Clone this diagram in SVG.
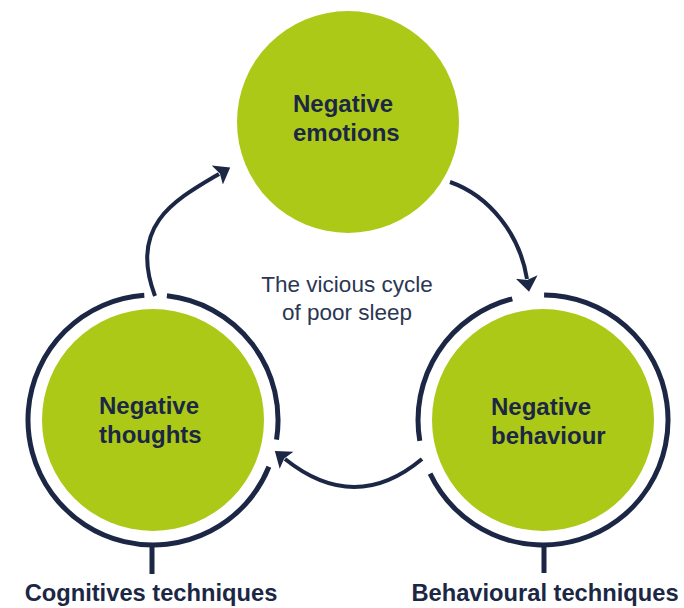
<svg xmlns="http://www.w3.org/2000/svg" width="684" height="608" viewBox="0 0 684 608">
  <style>
    .node { fill: #adc918; }
    .ring { fill: none; stroke: #1b2744; stroke-width: 5; }
    .stem { stroke: #1b2744; stroke-width: 5; }
    .conn { fill: none; stroke: #1b2744; stroke-width: 4; }
    .lbl { font-family: "Liberation Sans", Arial, sans-serif; font-weight: bold; font-size: 24px; fill: #1b2744; }
    .cap { font-family: "Liberation Sans", Arial, sans-serif; font-weight: bold; font-size: 23.7px; fill: #1b2744; text-anchor: middle; }
    .center { font-family: "Liberation Sans", Arial, sans-serif; font-size: 22.5px; fill: #2b3753; text-anchor: middle; }
  </style>
  <defs>
    <marker id="arrow" markerUnits="userSpaceOnUse" markerWidth="18" markerHeight="24" viewBox="0 0 18 24" refX="2" refY="12" orient="auto">
      <path d="M0,1 L15,12 L0,23 L3,12 z" fill="#1b2744"/>
    </marker>
  </defs>

  <g id="node-emotions">
    <circle class="node" cx="348" cy="122" r="111"/>
    <text class="lbl" x="293" y="112">Negative</text>
    <text class="lbl" x="293" y="141">emotions</text>
  </g>

  <g id="node-thoughts">
    <circle class="node" cx="153" cy="420" r="111"/>
    <path class="ring" d="M166.9,295.8 A125,125 0 0 1 276.5,439.6"/>
    <path class="ring" d="M268.9,466.8 A125,125 0 1 1 144.3,295.3"/>
    <text class="lbl" x="99" y="414">Negative</text>
    <text class="lbl" x="99" y="443">thoughts</text>
  </g>

  <g id="node-behaviour">
    <circle class="node" cx="543" cy="420" r="111"/>
    <path class="ring" d="M544.1,295 A125,125 0 1 1 430.1,473.6"/>
    <path class="ring" d="M419.8,440.9 A125,125 0 0 1 512.3,298.8"/>
    <text class="lbl" x="491" y="415">Negative</text>
    <text class="lbl" x="491" y="444">behaviour</text>
  </g>

  <g id="label-cognitive">
    <line class="stem" x1="152" y1="544" x2="152" y2="574"/>
    <text class="cap" x="151" y="601">Cognitives techniques</text>
  </g>

  <g id="label-behavioural">
    <line class="stem" x1="544" y1="544" x2="544" y2="573"/>
    <text class="cap" x="545" y="601">Behavioural techniques</text>
  </g>

  <g id="center-label">
    <text class="center" x="347" y="292">The vicious cycle</text>
    <text class="center" x="347" y="320">of poor sleep</text>
  </g>

  <g id="connectors">
    <path class="conn" d="M155,296 C128,225 175,200 219,174" marker-end="url(#arrow)"/>
    <path class="conn" d="M450,182 C490,196 520,235 527,279" marker-end="url(#arrow)"/>
    <path class="conn" d="M422,459 Q355,515 285,459" marker-end="url(#arrow)"/>
  </g>
</svg>
